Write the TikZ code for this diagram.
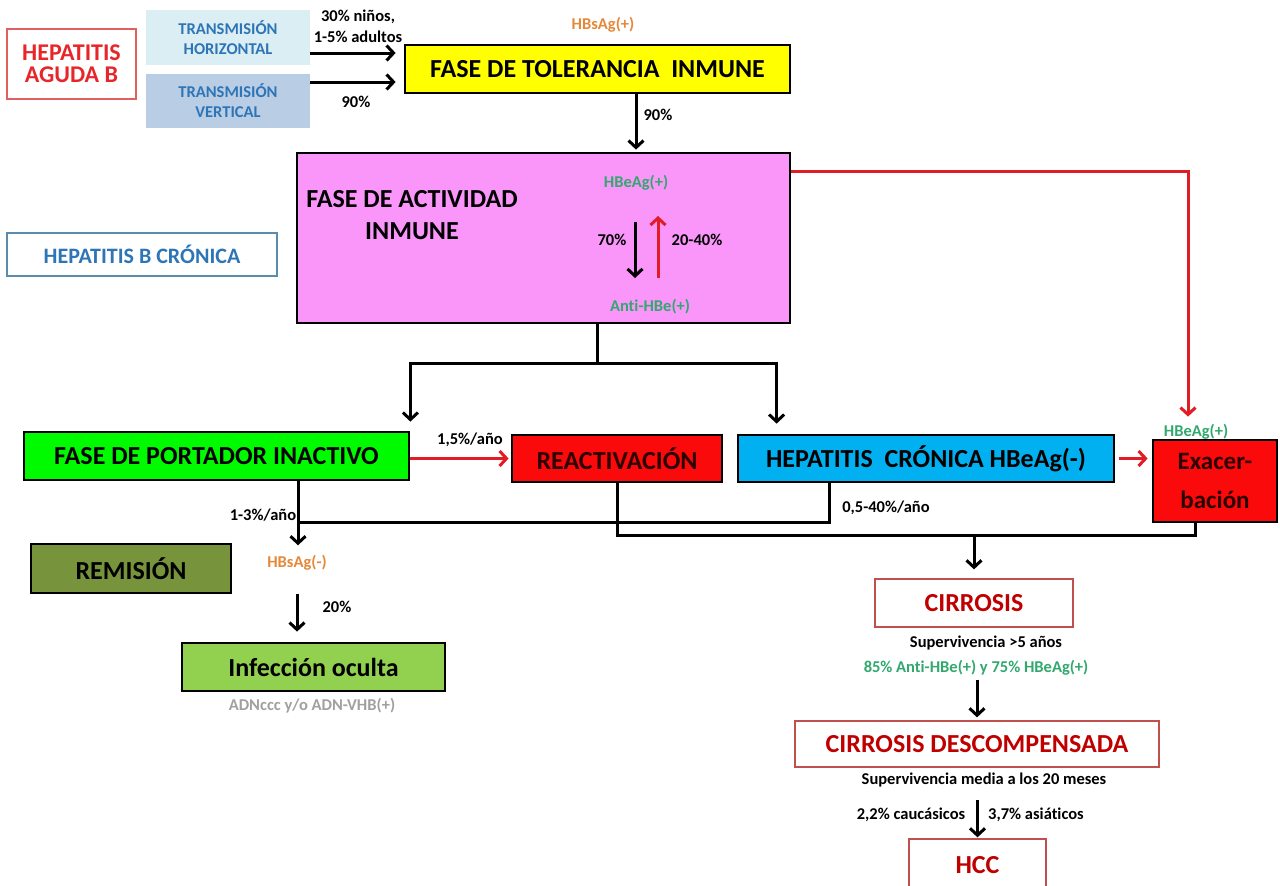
\documentclass[tikz,border=0pt]{standalone}
\usepackage{fontspec}
\setmainfont{Carlito}[Ligatures=NoCommon]
\usetikzlibrary{arrows.meta}

\definecolor{tolyellow}{RGB}{255,255,0}
\definecolor{actpink}{RGB}{250,150,250}
\definecolor{portgreen}{RGB}{0,250,0}
\definecolor{reactred}{RGB}{250,10,10}
\definecolor{cronblue}{RGB}{0,176,240}
\definecolor{remgreen}{RGB}{119,147,60}
\definecolor{ocultgreen}{RGB}{146,208,80}
\definecolor{agudared}{RGB}{232,38,42}
\definecolor{agudaborder}{RGB}{225,95,95}
\definecolor{transblue}{RGB}{46,117,182}
\definecolor{horizfill}{RGB}{219,238,244}
\definecolor{vertfill}{RGB}{185,205,229}
\definecolor{cronborder}{RGB}{90,140,175}
\definecolor{labelorange}{RGB}{228,137,58}
\definecolor{labelgreen}{RGB}{50,168,110}
\definecolor{labelgray}{RGB}{160,160,160}
\definecolor{linered}{RGB}{225,28,36}
\definecolor{cirrred}{RGB}{192,0,0}
\definecolor{cirrborder}{RGB}{192,80,77}
\definecolor{boxtext}{RGB}{45,0,0}

\begin{document}
\begin{tikzpicture}[x=1pt,y=-1pt,
  bigfont/.style={font=\bfseries\fontsize{26}{32}\selectfont},
  solidbox/.style={draw=black, line width=2.8pt, inner sep=0pt, bigfont},
  thinbox/.style={draw=cirrborder, line width=1.3pt, fill=white, inner sep=0pt,
    text=cirrred, bigfont},
  lbl/.style={inner sep=0pt, font=\bfseries\fontsize{16.5}{21}\selectfont},
  transbox/.style={inner sep=0pt, text=transblue, align=center,
    font=\bfseries\fontsize{16.5}{20}\selectfont, minimum width=164pt},
  conn/.style={line width=3pt, draw=black},
  arr/.style={conn, -{Straight Barb[length=7pt,width=15pt]}},
  redarr/.style={line width=3pt, draw=linered, -{Straight Barb[length=7pt,width=15pt]}}
]
\useasboundingbox (0,0) rectangle (1280,886);
\fill[white] (0,0) rectangle (1280,886);
\clip (0,0) rectangle (1280,886);

% --- acute infection and transmission routes
\node[draw=agudaborder, line width=1.5pt, fill=white, text=agudared, inner sep=0pt,
  minimum width=129pt, minimum height=70pt, align=center,
  font=\bfseries\fontsize{24}{22}\selectfont] (aguda) at (71.5,64) {HEPATITIS\\AGUDA B};
\node[transbox, fill=horizfill, minimum height=55pt] (thor) at (228,37.5) {TRANSMISIÓN\\HORIZONTAL};
\node[transbox, fill=vertfill, minimum height=54pt] (tver) at (228,101) {TRANSMISIÓN\\VERTICAL};

\node[lbl, align=center] (ninos) at (358,26) {30\% niños,\\1-5\% adultos};
\node[lbl] (nov1) at (356,102) {90\%};

% --- chronic phases
\node[lbl, text=labelorange] (hbsagpos) at (603,25) {HBsAg(+)};
\node[solidbox, fill=tolyellow, minimum width=385pt, minimum height=48pt] (toler)
  at (597.5,69) {FASE DE TOLERANCIA\hspace{0.45em}INMUNE};
\node[lbl] (nov2) at (658,115) {90\%};

\node[solidbox, fill=actpink, minimum width=493pt, minimum height=170pt] (activ) at (543.5,238) {};
\node[inner sep=0pt, bigfont, align=center] (activtxt) at (412,215) {FASE DE ACTIVIDAD\\INMUNE};
\node[lbl, text=labelgreen] (hbeagpos) at (636,183) {HBeAg(+)};
\node[lbl, text=labelgreen] (antihbe) at (650,307) {Anti-HBe(+)};
\node[lbl] (setenta) at (612,240) {70\%};
\node[lbl] (veinte) at (697,240) {20-40\%};

\node[draw=cronborder, line width=1.2pt, fill=white, text=transblue, inner sep=0pt,
  minimum width=270pt, minimum height=43pt,
  font=\bfseries\fontsize{22}{26}\selectfont] (hbcron) at (142,254.5) {HEPATITIS B CRÓNICA};

\node[solidbox, fill=portgreen, minimum width=385pt, minimum height=48pt] (portador)
  at (216.5,456) {FASE DE PORTADOR INACTIVO};
\node[solidbox, fill=reactred, text=boxtext, minimum width=210pt, minimum height=47pt] (reactiv)
  at (617,458.5) {REACTIVACIÓN};
\node[solidbox, fill=cronblue, minimum width=376pt, minimum height=47pt] (hepcron)
  at (926,458.5) {HEPATITIS\hspace{0.45em}CRÓNICA HBeAg(-)};
\node[solidbox, fill=reactred, text=boxtext, minimum width=124pt, minimum height=82pt,
  align=center, font=\bfseries\fontsize{25}{39}\selectfont] (exacer) at (1215,481) {Exacer-\\bación};
\node[lbl, text=labelgreen] (exlab) at (1196,432) {HBeAg(+)};

\node[lbl] (tasa1) at (470,440) {1,5\%/año};
\node[lbl] (tasa2) at (263,515) {1-3\%/año};
\node[lbl] (tasa3) at (886,508) {0,5-40\%/año};

% --- outcomes
\node[solidbox, fill=remgreen, minimum width=200pt, minimum height=49pt] (remision)
  at (131,568.5) {REMISIÓN};
\node[lbl, text=labelorange] (hbsagneg) at (297,563) {HBsAg(-)};
\node[lbl] (veintep) at (337,607) {20\%};
\node[solidbox, fill=ocultgreen, minimum width=263pt, minimum height=48pt] (oculta)
  at (313.5,667) {Infección oculta};
\node[lbl, text=labelgray] (adn) at (312,706) {ADNccc y/o ADN-VHB(+)};

\node[thinbox, minimum width=198pt, minimum height=48pt] (cirrosis) at (974,603) {CIRROSIS};
\node[lbl] (surv1) at (986,643) {Supervivencia >5 años};
\node[lbl, text=labelgreen] (surv2) at (976,668) {85\% Anti-HBe(+) y 75\% HBeAg(+)};
\node[thinbox, minimum width=364pt, minimum height=46pt] (descomp) at (977,744) {CIRROSIS DESCOMPENSADA};
\node[lbl] (surv3) at (984,780) {Supervivencia media a los 20 meses};
\node[lbl] (cauc) at (911,815) {2,2\% caucásicos};
\node[lbl] (asia) at (1036,815) {3,7\% asiáticos};
\node[thinbox, minimum width=137pt, minimum height=53pt] (hcc) at (977.5,865.5) {HCC};

% --- connectors
\coordinate (h1) at ([yshift=-15.5pt]thor.east);
\draw[arr, shorten >=8pt] (h1) -- (h1 -| toler.west);
\coordinate (v1) at ([yshift=19pt]tver.east);
\draw[arr, shorten >=8pt] (v1) -- (v1 -| toler.west);

\coordinate (t1) at ([xshift=38.5pt]toler.south);
\draw[arr, shorten >=2pt] (t1) -- (t1 |- activ.north);

\coordinate (hbtop) at (635,222);
\coordinate (hbbot) at (635,278);
\draw[arr] (hbtop) -- (hbbot);
\coordinate (rvbot) at (658,278);
\coordinate (rvtop) at (658,216);
\draw[redarr] (rvbot) -- (rvtop);

\coordinate (s1) at ([xshift=53.5pt]activ.south);
\coordinate (sj) at (597,363);
\draw[arr, shorten >=9pt] (s1) -- (sj) -| (portador.north east);
\coordinate (hp) at ([xshift=40pt]hepcron.north west);
\draw[arr, shorten >=10pt] (sj) -| (hp);

\coordinate (r1) at ([yshift=-20pt]activ.north east);
\coordinate (r2) at ([xshift=-27pt]exacer.north);
\draw[redarr, shorten >=22pt] (r1) -| (r2);

\draw[redarr, shorten >=2pt] (portador.east |- reactiv.west) -- (reactiv.west);
\draw[redarr, shorten <=4pt, shorten >=4pt] (hepcron.east) -- (hepcron.east -| exacer.west);

\coordinate (p1) at ([xshift=81.5pt]portador.south);
\draw[arr, shorten >=10pt] (p1) -- (p1 |- hbsagneg.north);
\coordinate (m1) at (298,522);
\coordinate (hc1) at ([xshift=93pt]hepcron.south west);
\draw[conn] (hc1) |- (m1);

\coordinate (m2) at (974,535);
\draw[conn] (reactiv.south) |- (m2) -| ([xshift=-20pt]exacer.south);
\draw[arr, shorten >=9pt] (m2) -- (m2 |- cirrosis.north);

\coordinate (o1) at ([xshift=-16.5pt]oculta.north);
\draw[arr, shorten <=23pt, shorten >=10pt] (o1 |- hbsagneg.south) -- (o1);

\draw[arr, shorten <=4pt, shorten >=3pt] (surv2.south -| descomp.north) -- (descomp.north);
\draw[arr, shorten <=13pt, shorten >=1pt] (surv3.south -| hcc.north) -- (hcc.north);
\end{tikzpicture}
\end{document}
